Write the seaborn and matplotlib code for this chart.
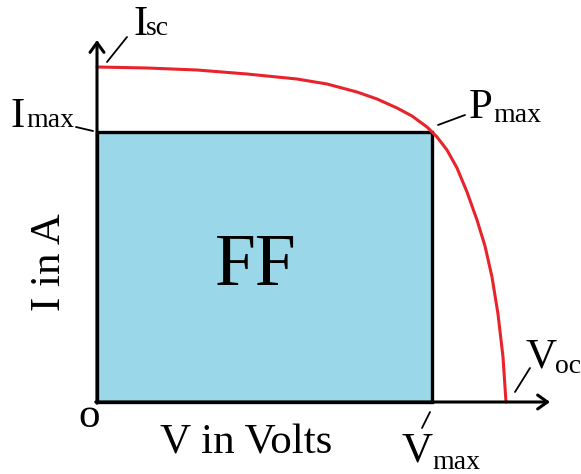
import matplotlib
matplotlib.use("Agg")
import matplotlib.pyplot as plt
from matplotlib.patches import Rectangle
import seaborn as sns
import pandas as pd

# I-V curve (arbitrary units)
volts = [0.00, 0.50, 1.00, 1.50, 2.00, 2.30, 2.60, 2.80, 3.00, 3.15, 3.30, 3.40,
         3.50, 3.60, 3.70, 3.80, 3.88, 3.95, 4.01, 4.06, 4.09]
amps = [3.35, 3.34, 3.32, 3.28, 3.23, 3.18, 3.10, 3.03, 2.94, 2.86, 2.75, 2.65,
        2.52, 2.34, 2.10, 1.82, 1.56, 1.25, 0.88, 0.45, 0.00]
v_max = 3.35
i_max = 2.70
x_end = 4.53
y_end = 3.62

df = pd.DataFrame({"V": volts, "I": amps})

sns.set_theme(style="white")
plt.rcParams["font.family"] = ["Liberation Serif", "DejaVu Serif"]
plt.rcParams["text.color"] = "black"

fig = plt.figure(figsize=(5.81, 4.74), dpi=100)
ax = fig.add_axes([0, 0, 1, 1])
ax.set_xlim(-0.97, 4.84)
ax.set_ylim(-0.72, 4.02)
ax.axis("off")

# FF rectangle
ax.add_patch(Rectangle((0, 0), v_max, i_max, facecolor="#9AD7E8",
                       edgecolor="black", lw=2.4, zorder=1))

sns.lineplot(data=df, x="V", y="I", color="#E8232B", lw=2.2, ax=ax, zorder=3)

# axes with arrows
arr = dict(arrowstyle="->,head_length=0.35,head_width=0.25", color="black",
           lw=2.2, mutation_scale=20, shrinkA=0, shrinkB=0)
ax.annotate("", xy=(0, y_end), xytext=(0, -0.012), arrowprops=arr, zorder=4)
ax.annotate("", xy=(x_end, 0), xytext=(-0.012, 0), arrowprops=arr, zorder=4)

big = 31
small = 20

def label(x, y, main, sub, sx, sy):
    ax.text(x, y, main, fontsize=big, ha="left", va="baseline", color="black")
    ax.text(sx, sy, sub, fontsize=small, ha="left", va="baseline", color="black")

label(0.36, 3.67, "I", "sc", 0.49, 3.67)
label(-0.87, 2.75, "I", "max", -0.71, 2.75)
label(3.72, 2.84, "P", "max", 3.96, 2.80)
label(3.04, -0.60, "V", "max", 3.35, -0.67)
label(4.28, 0.35, "V", "oc", 4.58, 0.29)

# leader lines
leaders = [((0.10, 3.40), (0.30, 3.65)),
           ((-0.21, 2.75), (-0.04, 2.71)),
           ((3.41, 2.77), (3.68, 2.87)),
           ((3.33, -0.10), (3.25, -0.26)),
           ((4.18, 0.10), (4.33, 0.34))]
for a, b in leaders:
    ax.plot([a[0], b[0]], [a[1], b[1]], color="black", lw=1.3)

ax.text(-0.19, -0.25, "o", fontsize=big, ha="left", va="baseline", color="black")
ax.text(0.63, -0.51, "V in Volts", fontsize=big, ha="left", va="baseline", color="black")
ax.text(-0.47, 1.40, "I in A", fontsize=big, rotation=90, ha="center", va="center",
        color="black")
ax.text(1.59, 1.17, "FF", fontsize=53, ha="center", va="baseline", color="black")

fig.savefig("out.png", dpi=100)
